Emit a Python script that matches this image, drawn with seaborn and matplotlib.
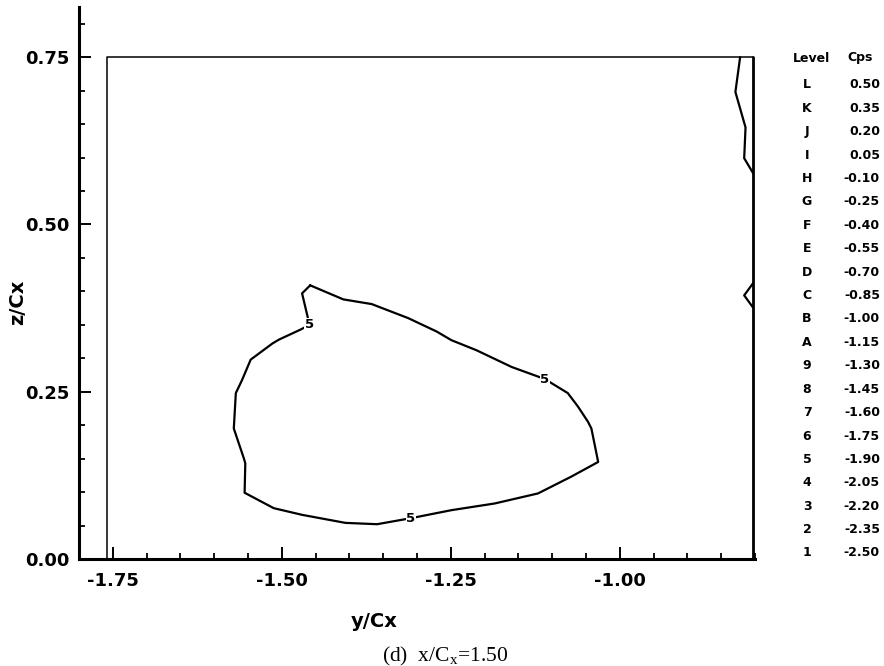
import matplotlib
matplotlib.use("Agg")
import matplotlib.pyplot as plt
from matplotlib.ticker import MultipleLocator
import seaborn as sns
import pandas as pd

# Contour levels of the static pressure coefficient
level_codes = list("LKJIHGFEDCBA987654321")
level_cps = [0.50, 0.35, 0.20, 0.05, -0.10, -0.25, -0.40, -0.55, -0.70, -0.85,
             -1.00, -1.15, -1.30, -1.45, -1.60, -1.75, -1.90, -2.05, -2.20,
             -2.35, -2.50]

# Measurement plane boundary (y/Cx, z/Cx)
domain_y = [-1.758, -0.803]
domain_z = [0.0, 0.75]

# Level 5 iso-line (closed vortex core region)
c5_y = [-1.458, -1.470, -1.459, -1.472, -1.504, -1.514, -1.546, -1.559, -1.568,
        -1.571, -1.556, -1.554, -1.555, -1.512, -1.470, -1.406, -1.359, -1.309,
        -1.249, -1.185, -1.121, -1.072, -1.032, -1.042, -1.047, -1.062, -1.077,
        -1.111, -1.160, -1.212, -1.249, -1.271, -1.313, -1.367, -1.409, -1.458]
c5_z = [0.409, 0.397, 0.350, 0.343, 0.328, 0.322, 0.298, 0.267, 0.248,
        0.195, 0.150, 0.143, 0.099, 0.076, 0.066, 0.054, 0.052, 0.061,
        0.073, 0.083, 0.098, 0.123, 0.145, 0.195, 0.205, 0.228, 0.248,
        0.269, 0.287, 0.312, 0.327, 0.340, 0.360, 0.381, 0.388, 0.409]
c5_label_idx = [2, 17, 27]
c5_level = "5"

# Iso-lines hugging the outboard edge of the plane
edge_a_y = [-0.822, -0.829, -0.814, -0.816, -0.803]
edge_a_z = [0.750, 0.698, 0.645, 0.599, 0.577]
edge_b_y = [-0.803, -0.816, -0.803]
edge_b_z = [0.412, 0.394, 0.376]

sns.set_theme(style="white")
plt.rcParams["font.family"] = ["DejaVu Sans"]

W, H = 884, 666
fig = plt.figure(figsize=(W / 100, H / 100), dpi=100)
ax = fig.add_axes([79 / W, 107 / H, 676 / W, 552 / H])

# plane boundary
box = pd.DataFrame({
    "y": [domain_y[0], domain_y[0], domain_y[1]],
    "z": [domain_z[0], domain_z[1], domain_z[1]],
})
sns.lineplot(data=box, x="y", y="z", sort=False, estimator=None,
             color="black", lw=1.1, ax=ax)
right = pd.DataFrame({"y": [domain_y[1], domain_y[1]],
                      "z": [domain_z[1], domain_z[0]]})
sns.lineplot(data=right, x="y", y="z", sort=False, estimator=None,
             color="black", lw=2.0, ax=ax)

# iso-lines
for yy, zz in [(c5_y, c5_z), (edge_a_y, edge_a_z), (edge_b_y, edge_b_z)]:
    sns.lineplot(x=yy, y=zz, sort=False, estimator=None,
                 color="black", lw=1.6, ax=ax)

for i in c5_label_idx:
    ax.text(c5_y[i], c5_z[i], c5_level, ha="center", va="center",
            fontsize=9.5, fontweight="bold", color="black", zorder=5,
            bbox=dict(boxstyle="square,pad=0.05", fc="white", ec="none"))

ax.set_xlim(-1.80, -0.800)
ax.set_ylim(0.0, 0.825)

ax.xaxis.set_major_locator(MultipleLocator(0.25))
ax.xaxis.set_minor_locator(MultipleLocator(0.05))
ax.yaxis.set_major_locator(MultipleLocator(0.25))
ax.yaxis.set_minor_locator(MultipleLocator(0.05))
ax.xaxis.set_major_formatter(lambda v, p: f"{v:.2f}")
ax.yaxis.set_major_formatter(lambda v, p: f"{v:.2f}")

for s in ["top", "right"]:
    ax.spines[s].set_visible(False)
for s in ["left", "bottom"]:
    ax.spines[s].set_linewidth(2.2)
    ax.spines[s].set_color("black")

ax.tick_params(which="major", direction="in", length=8.5, width=1.4,
               color="black", labelsize=13, labelcolor="black")
ax.tick_params(which="minor", direction="in", length=4.3, width=1.3,
               color="black")
ax.tick_params(axis="x", which="major", pad=9, bottom=True)
ax.tick_params(axis="y", which="major", pad=6.5, left=True)
ax.tick_params(axis="x", which="minor", bottom=True)
ax.tick_params(axis="y", which="minor", left=True)
for lab in ax.get_xticklabels() + ax.get_yticklabels():
    lab.set_fontweight("bold")

ax.set_xlabel("y/Cx", fontsize=14, fontweight="bold", color="black")
ax.set_ylabel("z/Cx", fontsize=14, fontweight="bold", color="black")
ax.xaxis.set_label_coords(0.4364, -0.1141)
ax.xaxis.label.set_verticalalignment("center")
ax.yaxis.set_label_coords(-0.0902, 0.4656)
ax.yaxis.label.set_verticalalignment("center")
ax.grid(False)

# level table
def fx(px):
    return px / W

def fy(py):
    return 1 - py / H

tkw = dict(fontsize=9, fontweight="bold", color="black", va="center")
fig.text(fx(793), fy(58), "Level", ha="left", **tkw)
fig.text(fx(873), fy(58), "Cps", ha="right", **tkw)
for i, (code, cps) in enumerate(zip(level_codes, level_cps)):
    y = fy(85 + i * 23.4)
    fig.text(fx(807), y, code, ha="center", **tkw)
    fig.text(fx(880), y, f"{cps:.2f}", ha="right", **tkw)

fig.text(fx(445), fy(656), r"(d)  x/C$_\mathregular{x}$=1.50",
         ha="center", va="center", fontsize=15.5, color="black",
         family="Liberation Serif")

fig.savefig("out.png", dpi=100, facecolor="white")
